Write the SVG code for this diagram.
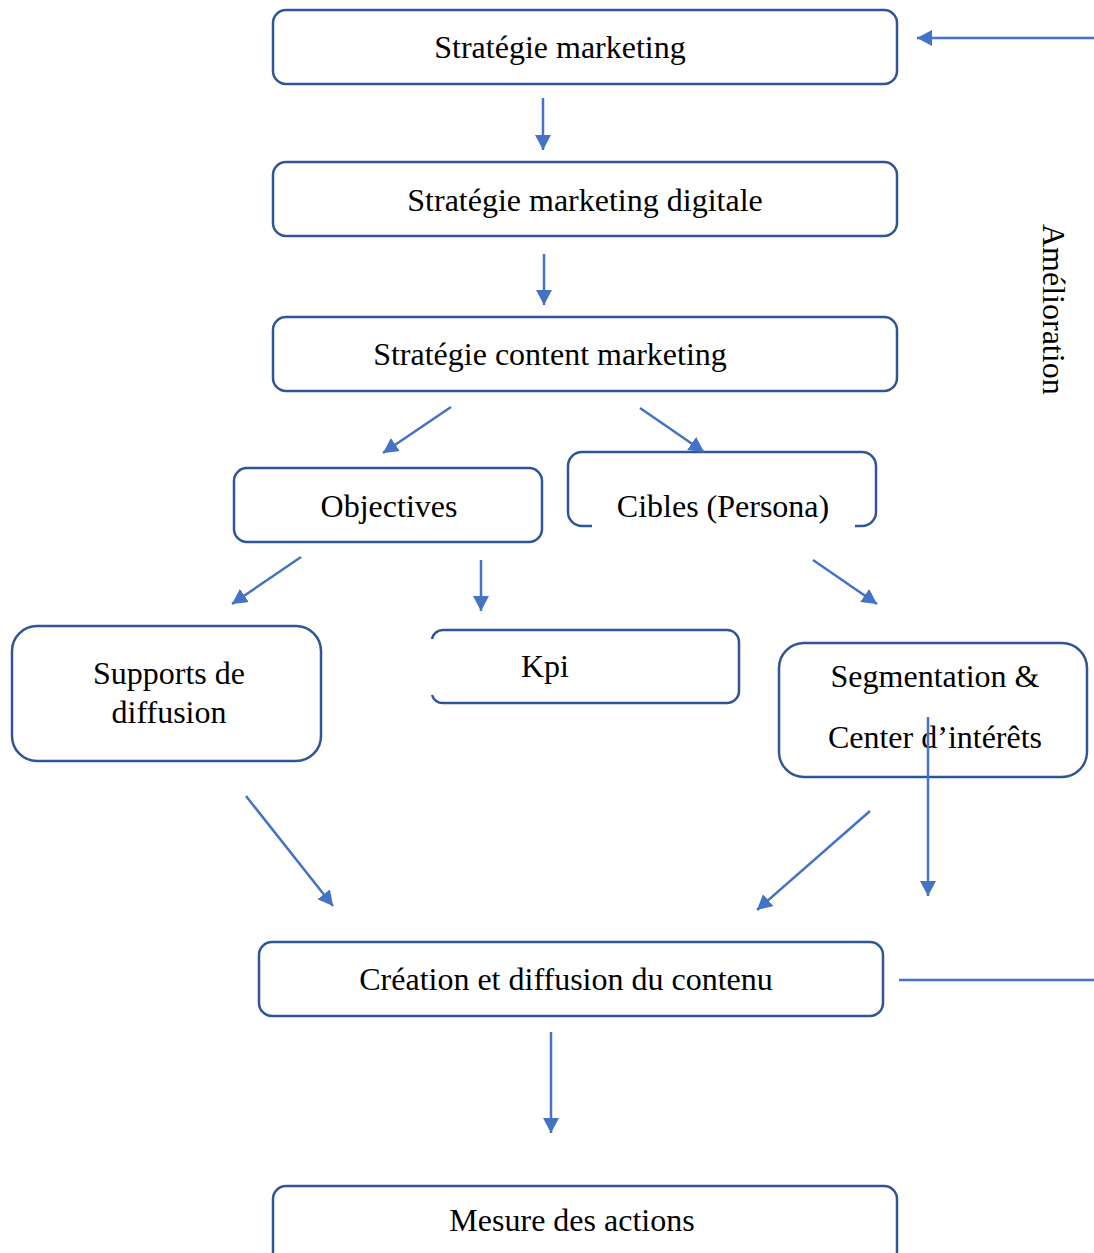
<svg xmlns="http://www.w3.org/2000/svg" width="1094" height="1253" viewBox="0 0 1094 1253">
<style>
.box{fill:#fff;stroke:#2F5597;stroke-width:2.5}
.open{fill:none;stroke:#2F5597;stroke-width:2.5}
.lbl{font-family:"Liberation Serif","Times New Roman",serif;font-size:32px;fill:#000;text-anchor:middle}
.c{stroke:#4472C4;stroke-width:2.5;fill:none}
.a{marker-end:url(#ah)}
</style>
<defs>
<marker id="ah" markerUnits="userSpaceOnUse" markerWidth="16" markerHeight="16" refX="15" refY="8" orient="auto" viewBox="0 0 16 16">
<path d="M0,0 L15,8 L0,16 z" fill="#4472C4"/>
</marker>
</defs>
<rect width="1094" height="1253" fill="#fff"/>
<g id="n1"><rect class="box" x="273" y="10" width="624" height="74" rx="13"/><text class="lbl" x="560" y="58">Stratégie marketing</text></g>
<g id="n2"><rect class="box" x="273" y="162" width="624" height="74" rx="13"/><text class="lbl" x="585" y="211">Stratégie marketing digitale</text></g>
<g id="n3"><rect class="box" x="273" y="317" width="624" height="74" rx="13"/><text class="lbl" x="550" y="365">Stratégie content marketing</text></g>
<g id="n4"><rect class="box" x="234" y="468" width="308" height="74" rx="13"/><text class="lbl" x="389" y="517">Objectives</text></g>
<g id="n5"><path class="open" d="M592,526 H582 A14,14 0 0 1 568,512 V466 A14,14 0 0 1 582,452 H862 A14,14 0 0 1 876,466 V512 A14,14 0 0 1 862,526 H855"/><text class="lbl" x="723" y="517">Cibles (Persona)</text></g>
<g id="n6"><rect class="box" x="12" y="626" width="309" height="135" rx="25"/><text class="lbl" x="169" y="684">Supports de</text><text class="lbl" x="169" y="723">diffusion</text></g>
<g id="n7"><path class="open" d="M432,639 A11,11 0 0 1 443,630 H727 A12,12 0 0 1 739,642 V691 A12,12 0 0 1 727,703 H443 A11,11 0 0 1 432,695"/><text class="lbl" x="545" y="677">Kpi</text></g>
<g id="n8"><rect class="box" x="779" y="643" width="308" height="134" rx="25"/><text class="lbl" x="935" y="687">Segmentation &amp;</text><text class="lbl" x="935" y="748">Center d’intérêts</text></g>
<g id="n9"><rect class="box" x="259" y="942" width="624" height="74" rx="13"/><text class="lbl" x="566" y="990">Création et diffusion du contenu</text></g>
<g id="n10"><rect class="box" x="273" y="1186" width="624" height="90" rx="13"/><text class="lbl" x="572" y="1231">Mesure des actions</text></g>
<g id="label"><text font-family="Liberation Serif, Times New Roman, serif" font-size="32" transform="translate(1043,224) rotate(90)">Amélioration</text></g>
<g id="connectors">
<line class="c a" x1="543" y1="98" x2="543" y2="150"/>
<line class="c a" x1="544" y1="254" x2="544" y2="305"/>
<line class="c a" x1="451" y1="407" x2="383" y2="453"/>
<line class="c a" x1="640" y1="408" x2="704" y2="452"/>
<line class="c a" x1="301" y1="557" x2="232" y2="604"/>
<line class="c a" x1="481" y1="560" x2="481" y2="611"/>
<line class="c a" x1="813" y1="560" x2="877" y2="604"/>
<line class="c a" x1="246" y1="796" x2="333" y2="906"/>
<line class="c a" x1="870" y1="811" x2="757" y2="910"/>
<line class="c a" x1="928" y1="717" x2="928" y2="896"/>
<line class="c a" x1="551" y1="1032" x2="551" y2="1133"/>
<line class="c a" x1="1094" y1="38" x2="917" y2="38"/>
<line class="c" x1="899" y1="980" x2="1094" y2="980"/>
</g>
</svg>
